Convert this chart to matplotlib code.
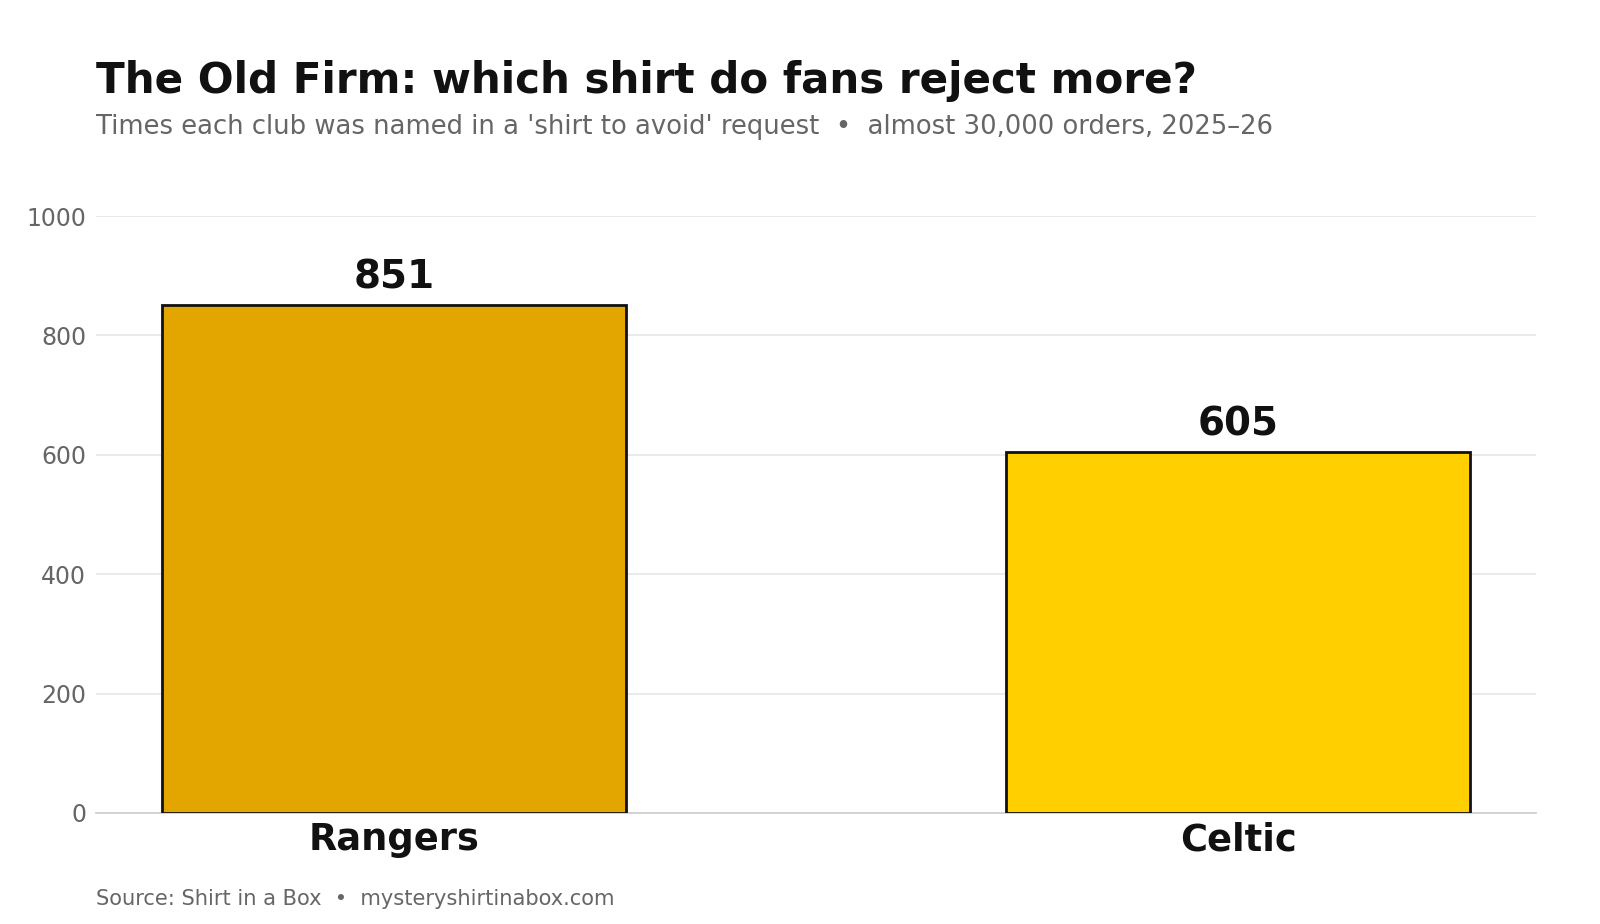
import matplotlib.pyplot as plt

clubs = ["Rangers", "Celtic"]
mentions = [851, 605]
bar_colors = ["#E3A600", "#FFCF00"]

title = "The Old Firm: which shirt do fans reject more?"
subtitle = "Times each club was named in a 'shirt to avoid' request  \u2022  almost 30,000 orders, 2025\u201326"
source = "Source: Shirt in a Box  \u2022  mysteryshirtinabox.com"

plt.rcParams['font.family'] = ['DejaVu Sans']

fig = plt.figure(figsize=(16, 9.24), dpi=100)
ax = fig.add_axes([96 / 1600, 1 - 813 / 924, 1440 / 1600, 597 / 924])

x = range(len(clubs))
bars = ax.bar(x, mentions, width=0.55, color=bar_colors, edgecolor="#111111", linewidth=2, zorder=3)

for b, v in zip(bars, mentions):
    ax.annotate(f"{v}", (b.get_x() + b.get_width() / 2, v), xytext=(0, 6),
                textcoords="offset points", ha="center", va="bottom",
                fontsize=28, fontweight="bold", color="#111111")

ax.set_xlim(-0.353, 1.353)
ax.set_ylim(0, 1000)
ax.set_yticks([0, 200, 400, 600, 800, 1000])
ax.set_xticks(list(x))
ax.set_xticklabels(clubs, fontsize=26.5, fontweight="bold", color="#111111")
ax.tick_params(axis="x", length=0, pad=6)
ax.tick_params(axis="y", length=0, pad=7, labelsize=17, labelcolor="#666666")
ax.grid(axis="y", color="#e8e8e8", linewidth=1.3, zorder=0)
for s in ["top", "right", "left"]:
    ax.spines[s].set_visible(False)
ax.spines["bottom"].set_color("#d0d0d0")
ax.spines["bottom"].set_linewidth(1.3)

fig.text(96 / 1600, 1 - 93 / 924, title, fontsize=30.3, fontweight="bold", color="#111111", va="baseline")
fig.text(96 / 1600, 1 - 134 / 924, subtitle, fontsize=18.6, color="#666666", va="baseline")
fig.text(96 / 1600, 1 - 905 / 924, source, fontsize=15.1, color="#666666", va="baseline")

fig.savefig("out.png", dpi=100)
